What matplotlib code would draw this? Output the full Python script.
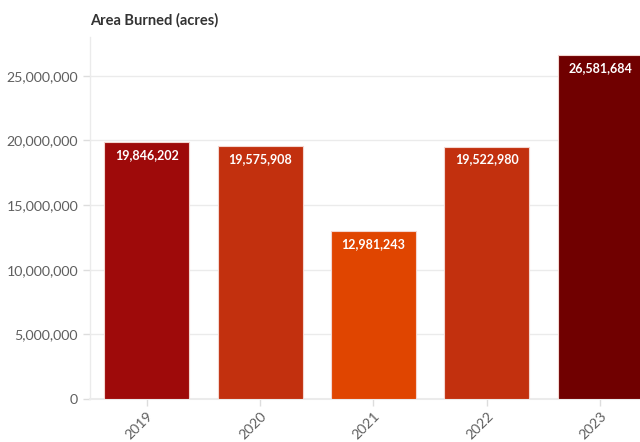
import matplotlib
matplotlib.use("Agg")
import matplotlib.pyplot as plt
from matplotlib.ticker import FuncFormatter

years = ["2019", "2020", "2021", "2022", "2023"]
acres = [19846202, 19575908, 12981243, 19522980, 26581684]
colors = ["#9E0A0A", "#C2300E", "#E04500", "#C2300E", "#700000"]
yticks = [0, 5000000, 10000000, 15000000, 20000000, 25000000]

plt.rcParams['font.family'] = ['Lato', 'DejaVu Sans']

fig = plt.figure(figsize=(6.4, 4.42), dpi=100)
ax = fig.add_axes([0.1406, 0.0973, 0.8594, 0.8190])

x = range(len(years))
bars = ax.bar(x, acres, width=0.75, color=colors, edgecolor="#f3d6d0", linewidth=0.8, zorder=3)
for xi, v in zip(x, acres):
    ax.annotate(f"{v:,}", (xi, v), xytext=(0, -5), textcoords="offset points",
                ha="center", va="top", color="white", fontsize=9, fontweight="bold", zorder=4)

ax.set_xlim(-0.5, 4.35)
ax.set_ylim(0, 28000000)
ax.set_yticks(yticks)
ax.yaxis.set_major_formatter(FuncFormatter(lambda v, p: f"{int(v):,}"))
ax.set_xticks(list(x))
ax.set_xticklabels(years, rotation=45, ha="right", rotation_mode="anchor")
ax.grid(axis="y", color="#ebebeb", linewidth=1, zorder=0)
for s in ["top", "right"]:
    ax.spines[s].set_visible(False)
ax.spines["left"].set_color("#ebebeb")
ax.spines["bottom"].set_color("#ebebeb")
ax.spines["left"].set_linewidth(1)
ax.spines["bottom"].set_linewidth(1.5)
ax.tick_params(axis="both", colors="#dddddd", labelcolor="#5f5f5f", labelsize=10.2, length=5, width=1)
ax.tick_params(axis="x", pad=3)

fig.text(0.1406, 0.955, "Area Burned (acres)", fontsize=10.5, fontweight="bold", color="#333333", ha="left", va="center")

fig.savefig("out.png", dpi=100)
